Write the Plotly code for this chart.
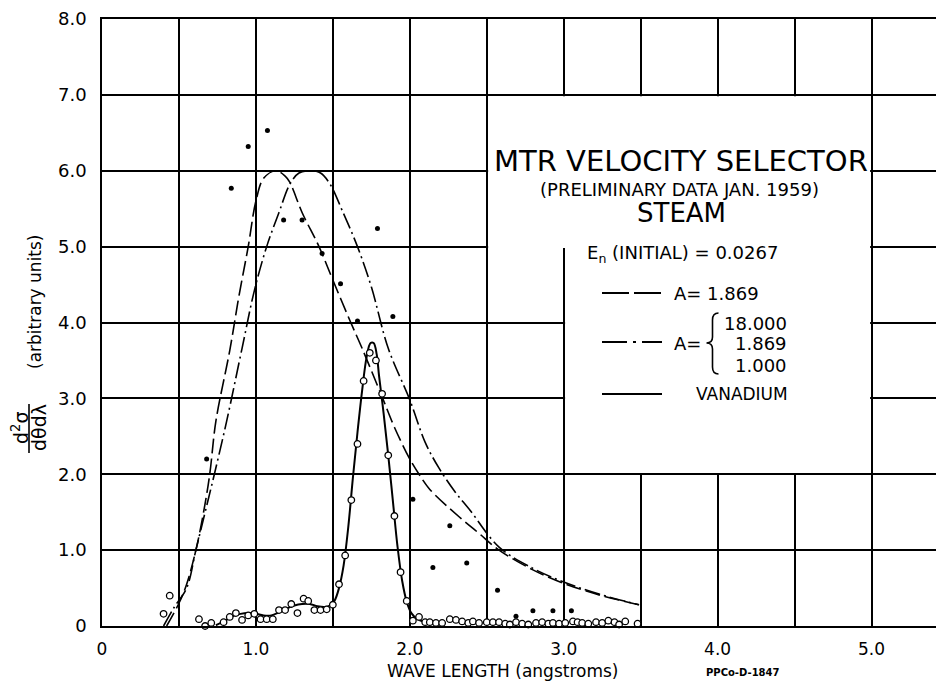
import plotly.graph_objects as go

# ---------------- data ----------------
# Steam measurements (filled dots)
STEAM_X = [0.68, 0.84, 0.95, 1.075, 1.18, 1.30, 1.43, 1.55, 1.66, 1.79, 1.89, 2.02,
           2.15, 2.26, 2.37, 2.57, 2.69, 2.80, 2.93, 3.05, 3.16, 3.38]
STEAM_Y = [2.20, 5.77, 6.32, 6.53, 5.35, 5.35, 4.91, 4.51, 4.02, 5.24, 4.08, 1.67,
           0.77, 1.32, 0.83, 0.47, 0.13, 0.20, 0.20, 0.20, -0.07, -0.04]

# Vanadium measurements (open circles)
VAN_X = [0.40, 0.44, 0.48, 0.52, 0.56, 0.595, 0.63, 0.67, 0.71, 0.75, 0.79, 0.83, 0.87,
         0.91, 0.95, 0.99, 1.03, 1.07, 1.11, 1.15, 1.19, 1.23, 1.27, 1.31, 1.34, 1.38,
         1.42, 1.46, 1.50, 1.54, 1.58, 1.62, 1.66, 1.70, 1.74, 1.78, 1.82, 1.86, 1.90,
         1.94, 1.98, 2.02, 2.06,
         2.10, 2.13, 2.17, 2.21, 2.26, 2.30, 2.34, 2.38, 2.41, 2.45, 2.50, 2.54, 2.58,
         2.62, 2.65, 2.69, 2.73, 2.77, 2.82, 2.86, 2.90, 2.93, 2.97, 3.01, 3.06, 3.09,
         3.12, 3.16, 3.21, 3.25, 3.29, 3.33, 3.36, 3.40, 3.44, 3.48]
VAN_Y = [0.16, 0.40, -0.03, -0.05, -0.10, -0.18, 0.09, 0.00, 0.04, -0.01, 0.05, 0.12, 0.17,
         0.08, 0.14, 0.16, 0.09, 0.09, 0.09, 0.21, 0.21, 0.29, 0.17, 0.36, 0.33, 0.21,
         0.21, 0.22, 0.28, 0.55, 0.93, 1.66, 2.40, 3.23, 3.60, 3.50, 3.06, 2.25, 1.45,
         0.71, 0.33, 0.07, 0.12,
         0.05, 0.05, 0.04, 0.04, 0.09, 0.08, 0.06, 0.04, 0.06, 0.04, 0.05, 0.05, 0.05,
         0.03, 0.02, 0.05, 0.03, 0.02, 0.04, 0.05, 0.03, 0.04, 0.03, 0.04, 0.06, 0.05,
         0.04, 0.03, 0.05, 0.04, 0.07, 0.05, 0.02, 0.06, -0.07, 0.03]

# Vanadium fitted curve (solid)
VCURVE_X = [0.74, 0.80, 0.85, 0.90, 0.95, 1.00, 1.05, 1.10, 1.15, 1.20, 1.25, 1.30, 1.35,
            1.40, 1.45, 1.48, 1.51, 1.54, 1.57, 1.60, 1.63, 1.66, 1.69, 1.72, 1.745, 1.765,
            1.785, 1.80, 1.83, 1.86, 1.89, 1.92, 1.95, 1.98, 2.01, 2.05, 2.10, 2.15, 2.20]
VCURVE_Y = [0.01, 0.07, 0.13, 0.16, 0.17, 0.16, 0.14, 0.14, 0.18, 0.23, 0.27, 0.29, 0.29,
            0.26, 0.25, 0.27, 0.33, 0.50, 0.80, 1.30, 1.95, 2.55, 3.10, 3.55, 3.73, 3.73,
            3.58, 3.30, 2.80, 2.25, 1.65, 1.05, 0.60, 0.32, 0.17, 0.09, 0.05, 0.03, 0.02]

# Calculated curve A = 1.869 (dashed)
DASH_X = [0.42, 0.50, 0.55, 0.61, 0.66, 0.70, 0.74, 0.83, 0.89, 0.95, 1.00, 1.05, 1.13,
          1.19, 1.22, 1.30, 1.41, 1.50, 1.61, 1.69, 1.82, 1.90, 2.00, 2.06, 2.13, 2.32,
          2.45, 2.58, 2.80, 2.99, 3.23, 3.49]
DASH_Y = [0.00, 0.30, 0.55, 1.00, 1.50, 2.00, 2.70, 3.63, 4.35, 5.00, 5.60, 5.90, 6.00,
          5.93, 5.85, 5.45, 5.00, 4.56, 4.03, 3.66, 3.02, 2.62, 2.20, 2.00, 1.80, 1.44,
          1.22, 1.00, 0.74, 0.57, 0.41, 0.28]

# Calculated curve A = 18.000 / 1.869 / 1.000 (dash-dot)
DOT_X = [0.40, 0.47, 0.55, 0.61, 0.67, 0.73, 0.81, 0.91, 0.99, 1.07, 1.15, 1.22, 1.28,
         1.36, 1.42, 1.48, 1.56, 1.66, 1.75, 1.86, 2.00, 2.10, 2.19, 2.29, 2.39, 2.58,
         2.80, 3.00, 3.23, 3.49]
DOT_Y = [0.00, 0.25, 0.50, 1.00, 1.50, 2.00, 2.70, 3.66, 4.42, 5.00, 5.45, 5.82, 5.97,
         6.00, 5.97, 5.83, 5.48, 5.00, 4.47, 3.66, 2.98, 2.42, 2.08, 1.78, 1.53, 1.04,
         0.76, 0.58, 0.42, 0.28]

X_TICKS = [0, 1.0, 2.0, 3.0, 4.0, 5.0]
X_TICKTEXT = ["0", "1.0", "2.0", "3.0", "4.0", "5.0"]
X_MINOR_GRID = [0.5, 1.5, 2.5, 3.5, 4.5]
Y_TICKS = [0, 1, 2, 3, 4, 5, 6, 7, 8]
Y_TICKTEXT = ["0", "1.0", "2.0", "3.0", "4.0", "5.0", "6.0", "7.0", "8.0"]

# ---------------- layout helpers ----------------
W, H = 936, 686
ML, MT, MB = 102, 19, 60
PW, PH = W - ML, H - MT - MB
FONT = "DejaVu Sans"


def px(x):
    return (x - ML) / PW


def py(y):
    return (H - MB - y) / PH


fig = go.Figure()

common = dict(mode="lines", hoverinfo="skip", showlegend=False, cliponaxis=False)
fig.add_trace(go.Scatter(x=DASH_X, y=DASH_Y, line=dict(color="black", width=1.6, dash="15px,5px", shape="spline"), **common))
fig.add_trace(go.Scatter(x=DOT_X, y=DOT_Y, line=dict(color="black", width=1.6, dash="16px,4px,2px,4px", shape="spline"), **common))
fig.add_trace(go.Scatter(x=VCURVE_X, y=VCURVE_Y, line=dict(color="black", width=2, shape="spline"), **common))
fig.add_trace(go.Scatter(x=STEAM_X, y=STEAM_Y, mode="markers", cliponaxis=False, showlegend=False,
                         marker=dict(color="black", size=5)))
fig.add_trace(go.Scatter(x=VAN_X, y=VAN_Y, mode="markers", cliponaxis=False, showlegend=False,
                         marker=dict(color="white", size=6.5, line=dict(color="black", width=1.3))))

shapes = []
# white panel holding the key (covers grid inside)
ex, ey = 0.009, 0.018
panel = (f"M {2.5+ex},{7-ey} L {5-ex},{7-ey} L {5-ex},{2+ey} L {3+ex},{2+ey} "
         f"L {3+ex},{5-ey} L {2.5+ex},{5-ey} Z")
shapes.append(dict(type="path", path=panel, xref="x", yref="y", layer="between",
                   fillcolor="white", line=dict(width=0)))

# key line samples
shapes.append(dict(type="line", xref="paper", yref="paper", x0=px(602), x1=px(662), y0=py(293), y1=py(293),
                   line=dict(color="black", width=1.8, dash="27px,5px")))
shapes.append(dict(type="line", xref="paper", yref="paper", x0=px(602), x1=px(662), y0=py(342), y1=py(342),
                   line=dict(color="black", width=1.8, dash="25px,6px,3px,6px")))
shapes.append(dict(type="line", xref="paper", yref="paper", x0=px(602), x1=px(662), y0=py(394), y1=py(394),
                   line=dict(color="black", width=2.2)))


def P(x, y):
    return f"{px(x)},{py(y)}"


# brace
bx = 712.5
brace = (f"M {P(bx+6,313)} Q {P(bx,313)} {P(bx,320)} L {P(bx,337)} Q {P(bx,343)} {P(bx-6,343)} "
         f"Q {P(bx,343)} {P(bx,349)} L {P(bx,367)} Q {P(bx,374)} {P(bx+6,374)}")
shapes.append(dict(type="path", path=brace, xref="paper", yref="paper", line=dict(color="black", width=1.6)))

# fraction bar of y label
shapes.append(dict(type="line", xref="paper", yref="paper", x0=px(29), x1=px(29), y0=py(404), y1=py(453),
                   line=dict(color="black", width=1.6)))

ann = []


def A(text, x, y, size, xanchor="center", angle=0, bold=False):
    t = f"<b>{text}</b>" if bold else text
    ann.append(dict(text=t, x=px(x), y=py(y), xref="paper", yref="paper", showarrow=False,
                    xanchor=xanchor, yanchor="middle", textangle=angle,
                    font=dict(family=FONT, size=size, color="black")))


A("MTR VELOCITY SELECTOR", 681, 161, 29)
A("(PRELIMINARY DATA JAN. 1959)", 679, 189, 18)
A("STEAM", 681, 213, 26)
A("E<sub>n</sub> (INITIAL) = 0.0267", 585, 254, 18, xanchor="left")
A("A= 1.869", 672, 293, 18, xanchor="left")
A("A=", 672, 343, 18, xanchor="left")
A("18.000", 789, 323, 18, xanchor="right")
A("1.869", 789, 344, 18, xanchor="right")
A("1.000", 789, 365, 18, xanchor="right")
A("VANADIUM", 694, 394, 17, xanchor="left")
A("WAVE LENGTH (angstroms)", 502, 671, 17)
A("PPCo-D-1847", 743, 672, 10, bold=True)
A("(arbitrary units)", 35, 302, 17, angle=-90)
A("d<sup>2</sup>σ", 20, 428, 19, angle=-90)
A("dθdλ", 39, 428, 19, angle=-90)

fig.update_layout(
    width=W, height=H,
    margin=dict(l=ML, r=0, t=MT, b=MB),
    paper_bgcolor="white", plot_bgcolor="white",
    shapes=shapes, annotations=ann,
    font=dict(family=FONT, color="black"),
    showlegend=False,
)
fig.update_xaxes(range=[0, PW / 153.9], tickvals=X_TICKS, ticktext=X_TICKTEXT,
                 showgrid=True, gridcolor="black", gridwidth=1.5, zeroline=False,
                 minor=dict(tickvals=X_MINOR_GRID, showgrid=True, gridcolor="black", gridwidth=1.5, ticks=""),
                 showline=True, linecolor="black", linewidth=1.6, mirror=True,
                 ticks="", ticklabelstandoff=7, tickfont=dict(family=FONT, size=17, color="black"))
fig.update_yaxes(range=[0, 8], tickvals=Y_TICKS, ticktext=Y_TICKTEXT,
                 showgrid=True, gridcolor="black", gridwidth=1.5, zeroline=False,
                 showline=True, linecolor="black", linewidth=1.6, mirror=False,
                 ticks="", ticklabelstandoff=10, tickfont=dict(family=FONT, size=18, color="black"))

fig.write_html("out.html")
